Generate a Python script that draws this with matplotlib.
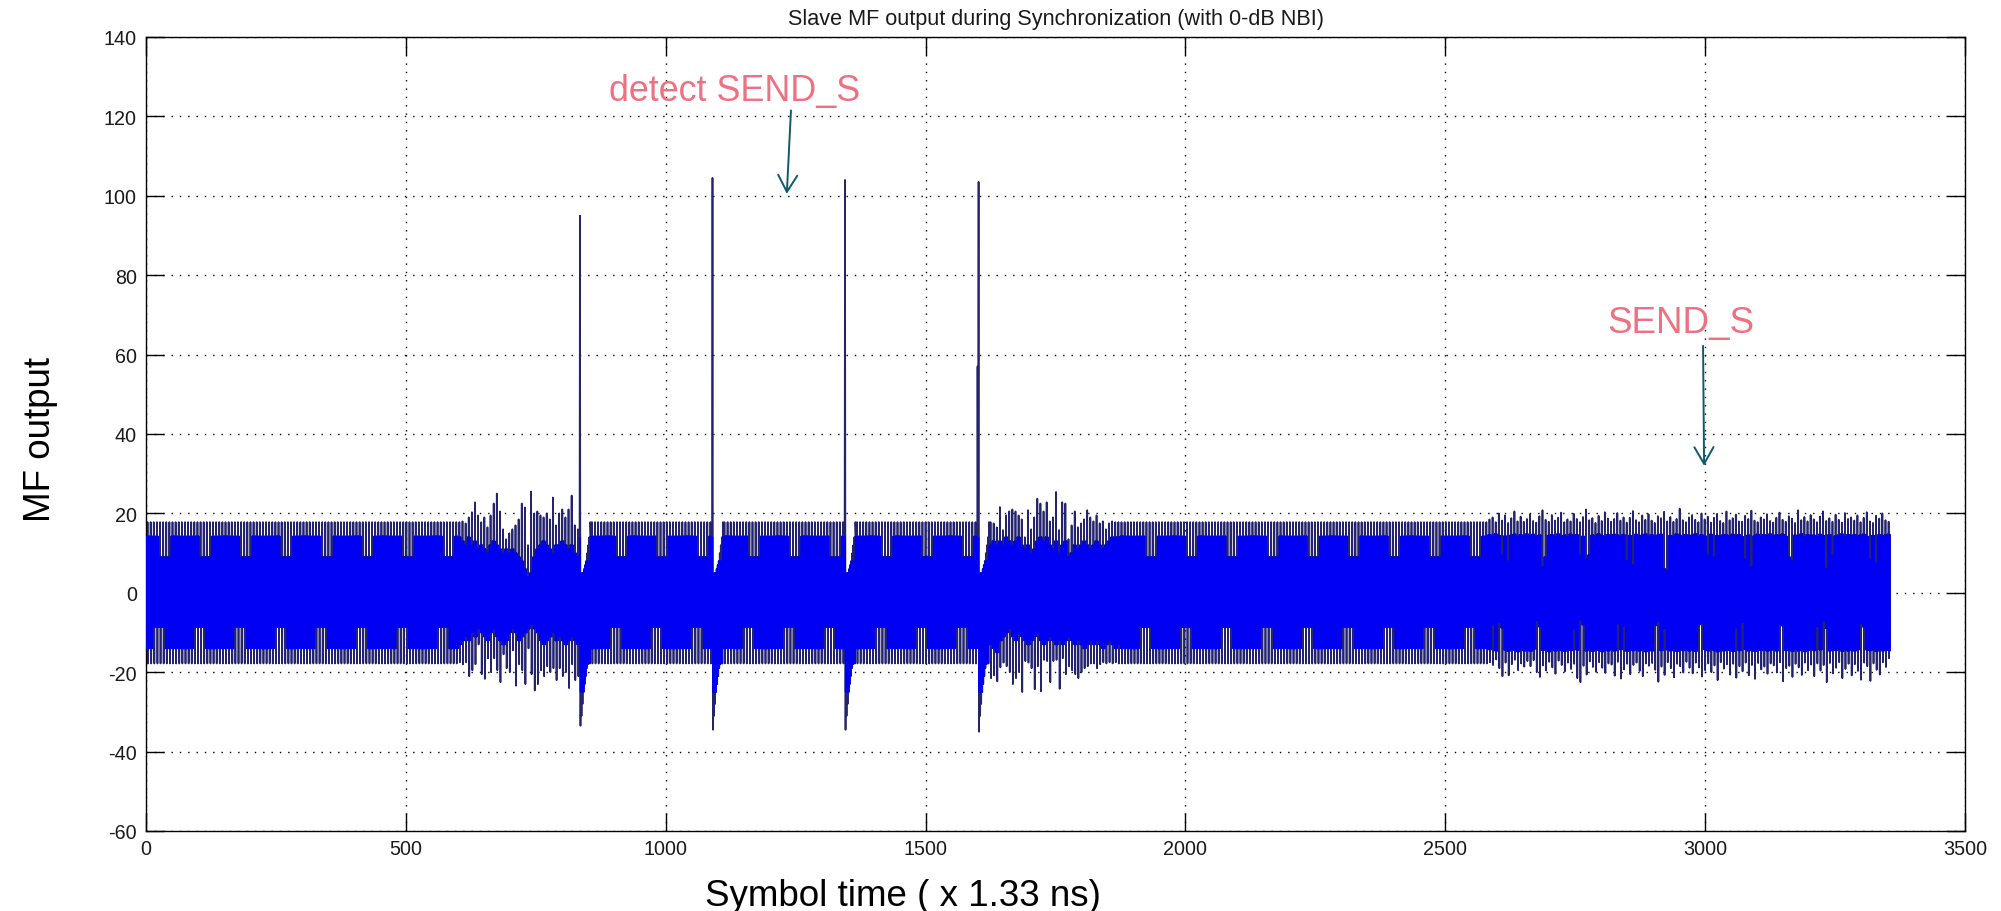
import numpy as np
import matplotlib
matplotlib.use("Agg")
import matplotlib.pyplot as plt

plt.rcParams['font.family'] = ['Liberation Sans', 'DejaVu Sans']
plt.rcParams['axes.unicode_minus'] = False

# ---------------- data ----------------
title = "Slave MF output during Synchronization (with 0-dB NBI)"
x_label = "Symbol time ( x 1.33 ns)"
y_label = "MF output"
x_ticks = [0, 500, 1000, 1500, 2000, 2500, 3000, 3500]
y_ticks = [-60, -40, -20, 0, 20, 40, 60, 80, 100, 120, 140]

# one period of the clean preamble MF output, in stroke groups (6 samples each)
tmpl_up_peak = [17.8, 17.8, 17.8, 17.8, 17.8, 17.8, 17.8, 17.8, 17.8, 17.8, 17.8, 17.8, 17.8]
tmpl_up_base = [14.2, 14.2, 14.2, 14.2, 9.0, 9.0, 9.0, 9.0, 14.2, 14.2, 14.2, 14.2, 14.2]
tmpl_lo_peak = [-17.8, -17.8, -17.8, -17.8, -17.8, -17.8, -17.8, -17.8, -17.8, -17.8, -17.8, -17.8, -17.8]
tmpl_lo_base = [-14.0, -14.0, -8.6, -8.6, -8.6, -8.6, -14.0, -14.0, -14.0, -14.0, -14.0, -14.0, -14.0]

# correlation peaks
spike_pos = [834, 1088, 1343, 1598]
spike_peak = [95.0, 104.5, 104.0, 103.5]
spike_trough = [-33.5, -34.5, -34.5, -35.0]
spike4_second = 57.0
post_spike = [4, -31, 5, -28, 5, -25, 6, -23, 7, -21, 8, -19, 10, -18, 12, -17.8, 14, -17.8, 17.8]

# noisy segment 1 (x ~ 600 .. 833)
n1_start = 600
n1_up_peak = [17.8, 18, 17.5, 19, 20.3, 22.8, 19.5, 17.8, 19, 16.5, 19.5, 22.5, 25.0, 20.5, 16, 13.5,
              15, 16, 17, 18.5, 22.5, 21.5, 12, 25.5, 20, 20.5, 19.5, 19, 20, 18.5, 24, 17, 20, 21,
              19, 21, 24.5, 17, 16]
n1_up_base = [14, 13, 12, 14, 12, 13, 11, 12, 11, 10, 12, 13, 12, 11, 10, 11, 10, 11, 10, 9, 8, 6, 4,
              5, 9, 11, 12, 13, 12, 11, 10, 12, 12, 13, 12, 11, 12, 10, 9]
n1_lo_peak = [-17.5, -18, -17.5, -21, -19.5, -18, -13, -20.5, -21.7, -16.5, -20, -16.5, -19.5, -22.5,
              -15.5, -19, -20, -14.5, -23.4, -18, -19.5, -23, -14, -20.5, -24.6, -23, -19.5, -21,
              -18.5, -20, -19, -22, -19, -21, -20, -24, -18, -22, -21]
n1_lo_base = [-13, -12, -11, -12, -10, -11, -9, -10, -11, -12, -10, -9, -11, -12, -13, -12, -10, -9,
              -10, -12, -11, -10, -9, -8, -9, -10, -12, -13, -12, -11, -10, -12, -11, -12, -13, -12,
              -11, -12, -13]

# noisy segment 2 (after the 4th peak, up to x ~ 1870)
n2_up_peak = [17.8, 17.5, 16.5, 21.6, 15.8, 19.5, 20.5, 21, 20.5, 19.5, 18.5, 14, 20.8, 16, 19, 23.7,
              22.5, 20.5, 22.8, 18, 19, 25.4, 15.8, 22.8, 22.5, 13.5, 17, 20.5, 16.5, 17.5, 18.5,
              20.8, 19, 18, 19.5, 17.5, 18, 16, 17.5, 18, 17.8, 17.8]
n2_up_base = [12, 13, 12, 13, 12, 14, 13, 12, 13, 14, 12, 11, 12, 10, 11, 13, 14, 13, 14, 12, 11, 13,
              10, 12, 13, 9, 10, 12, 11, 12, 13, 12, 11, 12, 13, 12, 11, 12, 13, 14, 14, 14]
n2_lo_peak = [-21.5, -20.8, -22.3, -18.8, -17.6, -18.5, -20, -23, -21.5, -20, -25, -17.2, -17.6, -19,
              -24.3, -18.5, -24.8, -16.9, -17.2, -22.5, -17.2, -16.9, -24.2, -16.5, -20.5, -18.5,
              -19.5, -20.5, -21.5, -20, -19, -18.5, -17.8, -17.8, -19, -18, -17.5, -17.8, -17.5,
              -17.8, -17.5, -17.8]
n2_lo_base = [-13, -14, -15, -12, -11, -10, -9, -11, -12, -10, -11, -12, -13, -12, -11, -10, -12, -13,
              -12, -11, -12, -13, -12, -13, -12, -11, -12, -13, -12, -13, -14, -13, -12, -13, -12,
              -13, -14, -13, -12, -13, -14, -13]

# noisy segment 3 (x ~ 2580 .. end)
n3_start = 2580
n3_up_peak = [18.5, 19.0, 17.8, 20.0, 18.2, 19.5, 17.6, 18.8, 20.5, 18.0, 19.2, 17.9, 18.6,
              19.8, 18.1, 17.7, 19.3, 20.8, 18.4, 17.9, 19.6, 18.2, 18.9, 20.2, 17.8, 18.5,
              18.0, 19.9, 18.6, 17.8, 19.1, 21.0, 18.3, 18.8, 17.6, 19.4, 18.1, 20.3, 18.7,
              17.9, 18.6, 20.1, 18.2, 19.0, 17.7, 18.9, 20.6, 18.3, 17.8, 19.5, 18.4, 19.8,
              18.2, 17.6, 19.3, 18.8, 20.4, 18.0, 19.1, 17.9, 18.6, 21.2, 18.3, 17.8, 19.0,
              19.6, 18.4, 17.8, 20.0, 18.5, 19.2, 17.7, 18.9, 19.9, 18.1, 17.6, 20.5, 18.3,
              18.8, 19.7, 18.0, 17.9, 19.4, 18.6, 20.7, 18.2, 17.8, 19.0, 18.5, 19.8, 18.1,
              17.7, 18.9, 20.2, 18.4, 17.9, 19.3, 18.7, 17.6, 20.8, 18.3, 19.1, 18.0, 19.6,
              18.5, 17.8, 19.2, 20.5, 18.1, 18.8, 17.9, 19.7, 18.4, 17.7, 20.1, 18.6, 19.0,
              18.2, 19.5, 17.8, 18.9, 20.3, 18.0, 17.6, 19.4, 18.7, 20.0, 18.3, 17.9]
n3_up_base = [14.6, 14.2, 14.8, 14.4, 9.5, 14.3, 8.0, 14.5, 14.7, 14.1, 14.6, 14.3, 14.8,
              14.4, 14.7, 14.2, 14.5, 6.5, 9.0, 14.4, 14.6, 14.2, 14.8, 14.3, 14.5, 14.1,
              14.7, 14.4, 14.6, 9.5, 14.2, 8.5, 9.5, 14.5, 14.3, 14.8, 14.4, 14.1, 14.6,
              14.3, 14.7, 14.5, 14.2, 14.6, 8.0, 14.4, 7.0, 14.7, 14.3, 14.5, 14.8, 14.2,
              14.6, 14.3, 14.5, 14.7, 6.0, 5.5, 14.4, 14.2, 14.8, 14.5, 14.1, 14.6, 14.4,
              14.5, 14.8, 14.2, 14.6, 14.3, 9.5, 14.7, 9.0, 14.4, 14.2, 14.6, 14.5, 14.3,
              14.7, 14.4, 14.6, 14.1, 8.5, 14.5, 6.5, 14.3, 14.7, 14.2, 14.6, 14.4, 14.8,
              14.3, 14.6, 14.4, 14.7, 14.2, 9.0, 8.0, 14.5, 14.3, 14.8, 14.1, 14.6, 14.4,
              14.5, 14.2, 14.7, 14.4, 6.0, 14.6, 9.5, 14.3, 14.5, 14.8, 14.2, 14.6, 14.4,
              14.6, 14.3, 14.5, 14.7, 14.2, 8.5, 14.4, 7.5, 14.6, 14.3, 14.5, 14.7]
n3_lo_peak = [-17.5, -18.2, -16.8, -19.0, -21.0, -17.6, -20.8, -18.0, -16.9, -19.5, -17.8, -18.6, -17.2,
              -18.5, -17.0, -20.0, -21.2, -18.3, -19.6, -17.4, -18.8, -20.4, -17.1, -18.2, -19.8, -17.6,
              -19.2, -17.9, -21.5, -22.5, -18.4, -20.6, -17.3, -18.7, -19.9, -17.5, -18.9, -20.2, -17.8,
              -18.1, -20.9, -17.4, -21.6, -19.3, -17.9, -20.5, -18.2, -17.6, -19.7, -21.0, -17.8, -18.4,
              -17.7, -19.4, -22.4, -18.6, -20.7, -17.5, -19.0, -21.3, -17.9, -18.5, -20.1, -17.4, -18.9,
              -20.3, -17.6, -18.8, -21.1, -19.5, -17.8, -20.0, -18.3, -22.0, -17.5, -19.1, -18.0, -20.6,
              -17.9, -21.4, -18.5, -19.8, -17.6, -20.8, -18.2, -21.7, -17.7, -19.3, -18.6, -20.4, -17.8,
              -18.3, -20.1, -17.5, -22.3, -19.0, -18.4, -21.2, -17.9, -18.8, -20.7, -17.6, -19.5, -18.1,
              -21.0, -17.8, -19.6, -18.2, -22.5, -17.7, -20.3, -18.9, -17.5, -21.5, -19.2, -17.9, -20.8,
              -18.0, -19.7, -21.9, -17.6, -18.5, -22.2, -17.8, -19.4, -20.6, -17.5, -18.7, -16.5]
n3_lo_base = [-14.3, -8.0, -14.6, -7.5, -8.8, -14.4, -14.7, -14.2, -14.5, -14.8, -14.3, -14.6, -14.4,
              -14.7, -14.2, -7.0, -8.5, -14.5, -14.3, -14.8, -14.4, -14.6, -14.1, -14.5, -14.7, -14.3,
              -14.5, -9.0, -14.4, -6.8, -8.0, -14.6, -14.3, -14.7, -14.2, -14.5, -14.8, -14.4, -14.6,
              -14.2, -14.6, -7.8, -14.3, -8.5, -14.7, -14.4, -14.5, -14.3, -14.6, -14.2, -14.8, -14.5,
              -14.6, -8.2, -7.2, -14.5, -9.0, -14.3, -14.6, -14.4, -14.7, -14.2, -14.5, -14.3, -14.6,
              -14.4, -14.7, -8.0, -7.6, -14.3, -14.6, -14.2, -14.5, -14.8, -14.4, -14.6, -14.3, -14.5,
              -14.7, -8.8, -14.5, -7.4, -14.2, -14.6, -14.4, -14.7, -14.3, -14.5, -14.2, -14.6, -14.4,
              -14.3, -14.6, -7.9, -8.3, -14.5, -14.4, -14.7, -14.2, -14.6, -14.3, -14.8, -14.5, -14.2,
              -14.5, -8.4, -14.3, -7.1, -8.9, -14.6, -14.4, -14.5, -14.2, -14.7, -14.3, -14.6, -14.4,
              -14.6, -14.3, -7.7, -8.6, -14.4, -14.5, -14.2, -14.7, -14.3, -14.6, -14.4, -14.5]

# annotations
ann_detect_text = "detect SEND_S"
ann_detect_xy_text = (1133, 124.2)
ann_detect_tail = (1241, 121.5)
ann_detect_head = (1233, 100.5)
ann_send_text = "SEND_S"
ann_send_xy_text = (2954, 65.8)
ann_send_tail = (2996, 62.2)
ann_send_head = (2998, 32.0)

# ---------------- build the sample sequence ----------------
y, up_env, lo_env = [], [], []
grp_counter = [0]


def add_group(up, ub, lp, lb):
    y.extend([ub, lb, up, lp, ub, lb])
    up_env.extend([ub] * 6)
    lo_env.extend([lb] * 6)


def add_groups(ups, ubs, lps, lbs):
    for g in range(min(len(ups), len(ubs), len(lps), len(lbs))):
        add_group(ups[g], ubs[g], lps[g], lbs[g])


def clean_until(n):
    while len(y) < n:
        k = grp_counter[0] % len(tmpl_up_peak)
        add_group(tmpl_up_peak[k], tmpl_up_base[k], tmpl_lo_peak[k], tmpl_lo_base[k])
        grp_counter[0] += 1


def add_raw(vals, ub, lb):
    y.extend(vals)
    up_env.extend([ub] * len(vals))
    lo_env.extend([lb] * len(vals))


clean_until(n1_start - 1)
add_groups(n1_up_peak, n1_up_base, n1_lo_peak, n1_lo_base)
for i in range(4):
    if i == 3:
        clean_until(spike_pos[i] - 3)
        add_raw([spike4_second, 6.0, spike_peak[i]], 14.0, -14.0)
    else:
        clean_until(spike_pos[i] - 1)
        add_raw([spike_peak[i]], 14.0, -14.0)
    add_raw([spike_trough[i]] + post_spike, 8.0, -25.0)
add_groups(n2_up_peak, n2_up_base, n2_lo_peak, n2_lo_base)
clean_until(n3_start - 1)
add_groups(n3_up_peak, n3_up_base, n3_lo_peak, n3_lo_base)

y = np.array(y, dtype=float)
up_env = np.array(up_env)
lo_env = np.array(lo_env)
xs = np.arange(1, len(y) + 1)

# ---------------- figure ----------------
W, H = 2001, 912
fig = plt.figure(figsize=(W / 100, H / 100), dpi=100)
ax = fig.add_axes([146 / W, 1 - 832 / H, 1819 / W, 794 / H])

navy = '#23236e'
blue = '#0000f2'
ax.plot(xs, y, color=navy, lw=1.25, zorder=2)
ax.plot(xs, np.clip(y, lo_env, up_env), color=blue, lw=1.0, zorder=3)

ax.set_xlim(0, 3500)
ax.set_ylim(-60, 140)
ax.set_xticks(x_ticks)
ax.set_yticks(y_ticks)
ax.set_axisbelow(True)
ax.grid(True, color='black', linestyle=(0, (1, 5)), linewidth=1.0)
ax.tick_params(direction='in', length=13, width=1.0, top=True, right=True,
               labelsize=14.2, colors='black', labelcolor='#1a1a1a')
ax.tick_params(axis='y', pad=6.5)
ax.tick_params(axis='x', pad=6.0)
for sp in ax.spines.values():
    sp.set_linewidth(1.0)
    sp.set_color('black')

ax.set_title(title, fontsize=15.6, color='#1a1a1a', pad=9)

pink = '#ef7080'
teal = '#0d5b6a'
ax.text(*ann_detect_xy_text, ann_detect_text, color=pink, fontsize=25.8,
        ha='center', va='baseline')
ax.annotate('', xy=ann_detect_head, xytext=ann_detect_tail,
            arrowprops=dict(arrowstyle='->,head_length=0.4,head_width=0.23',
                            color=teal, lw=1.4, mutation_scale=30,
                            shrinkA=0, shrinkB=0))
ax.text(*ann_send_xy_text, ann_send_text, color=pink, fontsize=26.5,
        ha='center', va='baseline')
ax.annotate('', xy=ann_send_head, xytext=ann_send_tail,
            arrowprops=dict(arrowstyle='->,head_length=0.4,head_width=0.23',
                            color=teal, lw=1.4, mutation_scale=30,
                            shrinkA=0, shrinkB=0))

fig.text(903 / W, 1 - 897 / H, x_label, fontsize=26.5, ha='center', va='center', color='black')
fig.text(40 / W, 1 - 440 / H, y_label, fontsize=26.5, ha='center', va='center',
         rotation=90, color='black')

fig.savefig('out.png', dpi=100)
